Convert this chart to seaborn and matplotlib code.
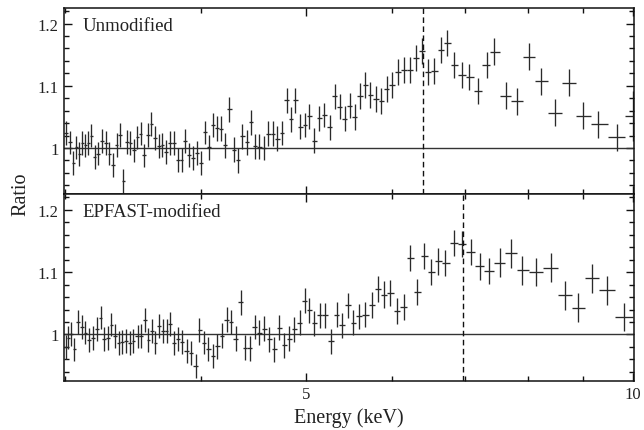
import numpy as np
import matplotlib
matplotlib.use("Agg")
import matplotlib.pyplot as plt
import matplotlib.ticker as mticker
import seaborn as sns

# ---------------- data ----------------
top_energy = [3.006, 3.032, 3.053, 3.070, 3.092, 3.110, 3.132, 3.152, 3.172, 3.195,
              3.217, 3.244, 3.270, 3.295, 3.319, 3.347, 3.371, 3.394, 3.423, 3.445,
              3.472, 3.497, 3.522, 3.547, 3.577, 3.602, 3.630, 3.659, 3.687, 3.716,
              3.748, 3.780, 3.809, 3.842, 3.869, 3.902, 3.935, 3.968, 4.005, 4.039,
              4.071, 4.108, 4.143, 4.179, 4.214, 4.250, 4.290, 4.326, 4.369, 4.410,
              4.450, 4.491, 4.529, 4.572, 4.613, 4.663, 4.705, 4.752, 4.800, 4.844,
              4.888, 4.940, 4.986, 5.035, 5.089, 5.143, 5.198, 5.258, 5.314, 5.370,
              5.428, 5.485, 5.544, 5.607, 5.666, 5.730, 5.796, 5.866, 5.933, 6.000,
              6.077, 6.151, 6.230, 6.313, 6.394, 6.476, 6.563, 6.657, 6.747, 6.847,
              6.956, 7.069, 7.200, 7.334, 7.449, 7.636, 7.816, 8.017, 8.229, 8.477,
              8.733, 8.996, 9.292, 9.668, 10.00]
top_ratio = [1.024, 1.009, 0.976, 1.001, 0.990, 1.008, 1.004, 1.008, 1.020, 0.985,
             0.991, 1.011, 1.008, 0.991, 0.973, 1.005, 1.021, 0.947, 1.010, 1.008,
             0.996, 1.017, 1.023, 0.988, 1.021, 1.039, 1.016, 1.003, 1.005, 0.994,
             1.008, 1.008, 0.981, 0.981, 1.011, 0.989, 0.984, 0.992, 0.976, 1.025,
             1.001, 1.037, 1.032, 1.031, 1.004, 1.062, 0.997, 0.980, 1.019, 1.009,
             1.041, 1.003, 1.002, 1.000, 1.023, 1.023, 1.015, 1.024, 1.077, 1.046,
             1.077, 1.034, 1.037, 1.051, 1.012, 1.048, 1.053, 1.033, 1.083, 1.066,
             1.047, 1.068, 1.050, 1.083, 1.101, 1.085, 1.079, 1.076, 1.095, 1.101,
             1.122, 1.125, 1.126, 1.145, 1.156, 1.122, 1.124, 1.157, 1.169, 1.133,
             1.117, 1.114, 1.092, 1.133, 1.155, 1.084, 1.075, 1.147, 1.107, 1.057,
             1.105, 1.052, 1.038, 1.017, 1.052]
top_err = [0.019] * 40 + [0.020] * 32 + [0.021] * 23 + [0.022] * 9 + [0.040]

bot_energy = [3.003, 3.021, 3.038, 3.058, 3.081, 3.108, 3.132, 3.159, 3.181, 3.209,
              3.235, 3.260, 3.284, 3.309, 3.335, 3.361, 3.387, 3.413, 3.443, 3.467,
              3.499, 3.522, 3.552, 3.579, 3.607, 3.633, 3.663, 3.690, 3.721, 3.748,
              3.780, 3.812, 3.844, 3.883, 3.918, 3.956, 3.989, 4.028, 4.065, 4.106,
              4.143, 4.184, 4.227, 4.265, 4.308, 4.354, 4.393, 4.438, 4.485, 4.528,
              4.577, 4.626, 4.675, 4.725, 4.775, 4.823, 4.874, 4.934, 4.986, 5.035,
              5.089, 5.147, 5.202, 5.269, 5.337, 5.393, 5.463, 5.527, 5.598, 5.670,
              5.747, 5.821, 5.896, 5.975, 6.064, 6.151, 6.238, 6.326, 6.421, 6.521,
              6.619, 6.718, 6.843, 6.960, 7.090, 7.226, 7.365, 7.544, 7.717, 7.909,
              8.141, 8.398, 8.657, 8.905, 9.161, 9.457, 9.812]
bot_ratio = [0.980, 0.995, 1.001, 0.976, 1.020, 1.012, 1.003, 0.991, 0.994, 1.009,
             1.027, 0.993, 0.994, 1.016, 0.998, 0.986, 0.988, 0.990, 0.986, 0.989,
             0.997, 0.998, 1.023, 0.991, 1.006, 0.987, 1.014, 1.006, 1.006, 1.017,
             0.986, 0.993, 0.988, 0.974, 0.970, 0.950, 1.007, 0.987, 0.977, 0.966,
             0.981, 0.998, 1.024, 1.020, 0.993, 1.052, 0.979, 0.978, 1.012, 1.003,
             1.009, 0.992, 0.976, 1.011, 0.983, 0.993, 1.008, 1.019, 1.054, 1.039,
             1.018, 1.031, 1.031, 0.989, 1.032, 1.015, 1.047, 1.019, 1.029, 1.032,
             1.047, 1.073, 1.064, 1.066, 1.038, 1.044, 1.122, 1.068, 1.126, 1.100,
             1.117, 1.115, 1.146, 1.145, 1.132, 1.109, 1.102, 1.115, 1.130, 1.103,
             1.100, 1.107, 1.063, 1.043, 1.090, 1.071, 1.028]
bot_err = [0.019] * 40 + [0.020] * 30 + [0.021] * 17 + [0.023] * 10

panel_labels = ["Unmodified", "EPFAST-modified"]
line_energies = [6.40, 6.97]
x_major = [5, 10]
x_minor = [3, 4, 6, 7, 8, 9]
y_major = [1.0, 1.1, 1.2]

# ---------------- style ----------------
sns.set_theme(style="ticks")
plt.rcParams["font.family"] = ["Liberation Serif", "DejaVu Serif"]
plt.rcParams["axes.linewidth"] = 1.1


def bin_halfwidths(e):
    e = np.asarray(e, float)
    mids = np.sqrt(e[1:] * e[:-1])
    lo = np.concatenate([[e[0] ** 2 / mids[0]], mids])
    hi = np.concatenate([mids, [e[-1] ** 2 / mids[-1]]])
    return np.vstack([e - lo, hi - e])


fig = plt.figure(figsize=(6.44, 4.31), dpi=100)
left, right = 63.5 / 644, 634 / 644
ax1 = fig.add_axes([left, 1 - 195 / 431, right - left, (195 - 9) / 431])
ax2 = fig.add_axes([left, 1 - 381.7 / 431, right - left, (381.7 - 195) / 431], sharex=ax1)

datasets = [(top_energy, top_ratio, top_err), (bot_energy, bot_ratio, bot_err)]

for ax, (e, r, err), lab, le in zip([ax1, ax2], datasets, panel_labels, line_energies):
    ax.errorbar(e, r, xerr=bin_halfwidths(e), yerr=err, fmt="none",
                ecolor="#2a2a2a", elinewidth=0.95, capsize=0)
    ax.axhline(1.0, color="#333333", lw=1.0, zorder=1)
    ax.axvline(le, color="#111111", lw=1.0, ls=(0, (4, 2.5)))
    ax.set_xscale("log")
    ax.set_xlim(2.99, 10.02)
    ax.set_ylim(0.926, 1.225)
    ax.yaxis.set_major_locator(mticker.FixedLocator(y_major))
    ax.yaxis.set_minor_locator(mticker.MultipleLocator(0.02))
    ax.yaxis.set_major_formatter(mticker.FuncFormatter(lambda v, p: "%g" % round(v, 2)))
    ax.xaxis.set_major_locator(mticker.FixedLocator(x_major))
    ax.xaxis.set_minor_locator(mticker.FixedLocator(x_minor))
    ax.xaxis.set_major_formatter(mticker.FuncFormatter(lambda v, p: "%g" % v))
    ax.xaxis.set_minor_formatter(mticker.NullFormatter())
    ax.tick_params(which="both", direction="in", top=True, right=True,
                   width=1.0, colors="#111111", labelsize=12, labelcolor="#222222")
    ax.tick_params(which="major", length=6)
    ax.tick_params(which="minor", length=3.5)
    ax.text(0.033, 0.905, lab, transform=ax.transAxes, fontsize=13.5,
            color="#222222", va="center", ha="left")
    for s in ax.spines.values():
        s.set_color("#111111")

ax1.tick_params(axis="x", which="both", labelbottom=False)
ax2.set_xlabel("Energy (keV)", fontsize=14.5, color="#222222", labelpad=4)
fig.text(0.032, 0.55, "Ratio", rotation=90, fontsize=14.5, color="#222222",
         ha="center", va="center")

fig.savefig("out.png", dpi=100)
